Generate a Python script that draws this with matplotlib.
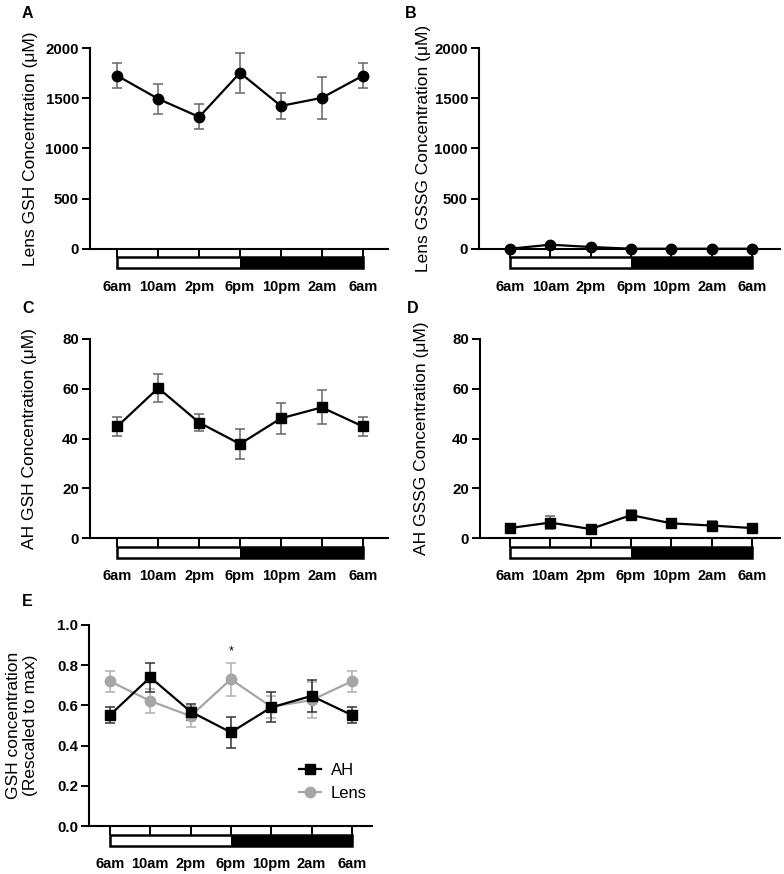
import numpy as np
import matplotlib
matplotlib.use("Agg")
import matplotlib.pyplot as plt
from matplotlib.patches import Rectangle
from matplotlib.transforms import blended_transform_factory

plt.rcParams['font.family'] = ['Liberation Sans', 'DejaVu Sans']

# time points
times = ['6am', '10am', '2pm', '6pm', '10pm', '2am', '6am']

# A: lens GSH
lens_gsh = [1723, 1493, 1313, 1753, 1423, 1503, 1723]
lens_gsh_err = [125, 148, 125, 200, 132, 210, 125]
# B: lens GSSG
lens_gssg = [0, 40, 17, 0, 0, 0, 0]
lens_gssg_err = [5, 10, 8, 3, 3, 3, 3]
# C: AH GSH
ah_gsh = [44.9, 60.3, 46.4, 37.8, 48.1, 52.5, 44.9]
ah_gsh_err = [3.7, 5.8, 3.5, 6.2, 6.1, 6.8, 3.7]
# D: AH GSSG
ah_gssg = [4.0, 6.2, 3.6, 9.2, 5.9, 5.0, 4.0]
ah_gssg_err = [1.0, 2.5, 0.8, 2.0, 1.5, 2.0, 1.0]
# E: rescaled to max
ah_scaled = [0.552, 0.740, 0.569, 0.466, 0.590, 0.647, 0.552]
ah_scaled_err = [0.041, 0.072, 0.040, 0.077, 0.075, 0.080, 0.041]
lens_scaled = [0.720, 0.622, 0.547, 0.730, 0.593, 0.626, 0.720]
lens_scaled_err = [0.052, 0.062, 0.052, 0.083, 0.055, 0.088, 0.052]

W, H = 784, 874
fig = plt.figure(figsize=(W / 100, H / 100), dpi=100)


def add_ax(left, right, top, bottom):
    return fig.add_axes([left / W, 1 - bottom / H, (right - left) / W, (bottom - top) / H])


def light_dark_bar(ax):
    # white/black light-dark cycle bar under the x axis
    tr = blended_transform_factory(ax.transData, ax.transAxes)
    y0, y1 = -0.098, -0.043
    ax.add_patch(Rectangle((0, y0), 3, y1 - y0, transform=tr, facecolor='white',
                           edgecolor='none', clip_on=False))
    ax.add_patch(Rectangle((3, y0), 3, y1 - y0, transform=tr, facecolor='black',
                           edgecolor='none', clip_on=False))
    ax.add_patch(Rectangle((0, y0), 6, y1 - y0, transform=tr, facecolor='none',
                           edgecolor='black', lw=1.8, clip_on=False))


def style_ax(ax, xlim, ylim, yticks, yfmt, ylabel, labx):
    x = np.arange(len(times))
    ax.set_xlim(*xlim)
    ax.set_ylim(*ylim)
    ax.set_xticks(x)
    ax.set_xticklabels(times)
    ax.set_yticks(yticks)
    ax.set_yticklabels([yfmt.format(v) for v in yticks])
    for s in ['top', 'right']:
        ax.spines[s].set_visible(False)
    for s in ['left', 'bottom']:
        ax.spines[s].set_linewidth(1.5)
    ax.tick_params(axis='x', length=6.2, width=1.4, pad=16, labelsize=10.5)
    ax.tick_params(axis='y', length=6, width=1.4, pad=2, labelsize=10.8)
    for lab in ax.get_xticklabels() + ax.get_yticklabels():
        lab.set_fontweight('bold')
    ax.set_ylabel(ylabel, fontsize=12.5)
    ax.yaxis.set_label_coords(labx, 0.5)
    light_dark_bar(ax)


def series(ax, vals, errs, marker, color='black', ecolor='#666666', ms=7.5, label=None):
    x = np.arange(len(vals))
    ax.errorbar(x, vals, yerr=errs, fmt='none', ecolor=ecolor, elinewidth=1.1,
                capsize=3.8, capthick=1.1, zorder=2, clip_on=False)
    ax.plot(x, vals, color=color, lw=1.6, marker=marker, ms=ms, zorder=3,
            clip_on=False, label=label)


# A
axA = add_ax(90, 388, 48, 248.7)
series(axA, lens_gsh, lens_gsh_err, 'o')
style_ax(axA, (-0.67, 6.62), (0, 2000), [0, 500, 1000, 1500, 2000], '{:d}',
         'Lens GSH Concentration (\u03bcM)', -0.175)

# B
axB = add_ax(479, 780, 48, 248.7)
series(axB, lens_gssg, lens_gssg_err, 'o')
style_ax(axB, (-0.77, 6.69), (0, 2000), [0, 500, 1000, 1500, 2000], '{:d}',
         'Lens GSSG Concentration (\u03bcM)', -0.158)

# C
axC = add_ax(90, 388, 339, 538)
series(axC, ah_gsh, ah_gsh_err, 's', ms=7)
style_ax(axC, (-0.67, 6.62), (0, 80), [0, 20, 40, 60, 80], '{:d}',
         'AH GSH Concentration (\u03bcM)', -0.178)

# D
axD = add_ax(480, 780, 339, 538)
series(axD, ah_gssg, ah_gssg_err, 's', ms=7)
style_ax(axD, (-0.74, 6.69), (0, 80), [0, 20, 40, 60, 80], '{:d}',
         'AH GSSG Concentration (\u03bcM)', -0.17)

# E
axE = add_ax(89, 372, 625, 826)
series(axE, lens_scaled, lens_scaled_err, 'o', color='#a6a6a6', ecolor='#b0b0b0',
       label='Lens')
series(axE, ah_scaled, ah_scaled_err, 's', ecolor='#333333', ms=7, label='AH')
style_ax(axE, (-0.52, 6.5), (0, 1.0), [0.0, 0.2, 0.4, 0.6, 0.8, 1.0], '{:.1f}',
         'GSH concentration\n(Rescaled to max)', -0.18)
axE.text(3, 0.87, '*', ha='center', va='center', fontsize=9)
h, l = axE.get_legend_handles_labels()
axE.legend(h[::-1], l[::-1], loc='center left', bbox_to_anchor=(0.69, 0.22),
           frameon=False, fontsize=12, handlelength=1.3, handletextpad=0.6,
           labelspacing=0.45)

# panel letters
for letter, x, y in [('A', 22, 6), ('B', 405, 6), ('C', 22, 301), ('D', 407, 301), ('E', 22, 594)]:
    fig.text(x / W, 1 - y / H, letter, fontsize=11.5, fontweight='bold', ha='left', va='top')

fig.savefig('out.png', dpi=100)
